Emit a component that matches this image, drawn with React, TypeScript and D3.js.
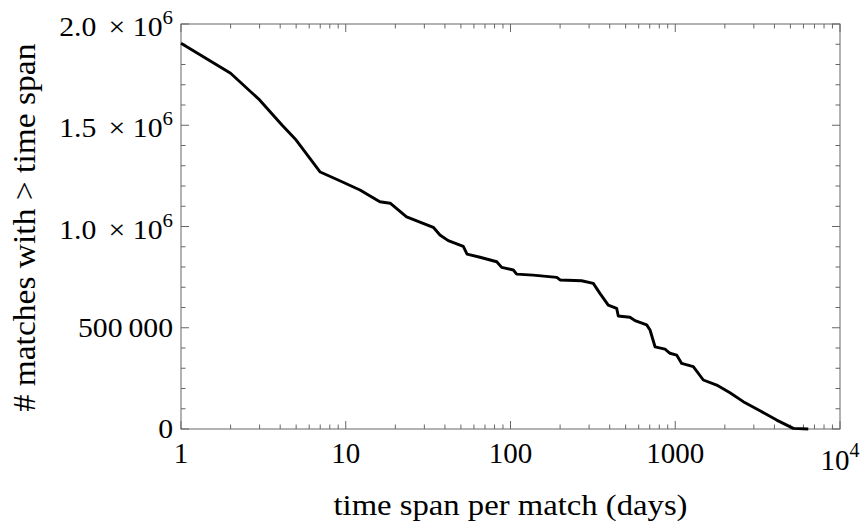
import React from "react";
import * as d3 from "d3";

const days = [1, 2, 3, 4.1, 5, 7, 9.2, 12.2, 16.1, 18.6, 23.4, 28.2, 34, 37.3, 41.9, 51.7, 54.5, 65.3, 82.5, 88.4, 104, 109, 137, 191, 200, 270, 318, 349, 392, 441, 451, 531, 570, 671, 703, 754, 867, 929, 1020, 1094, 1287, 1480, 1785, 2149, 2588, 3269, 4128, 5208, 6420];
const matches = [1905000, 1757000, 1625000, 1501000, 1427000, 1269000, 1226000, 1180000, 1122000, 1115000, 1048000, 1022000, 996000, 958000, 930000, 902000, 864000, 848000, 826000, 798000, 785000, 765000, 760000, 749000, 736000, 732000, 719000, 670000, 612000, 596000, 558000, 552000, 535000, 514000, 489000, 406000, 394000, 374000, 365000, 324000, 308000, 242000, 217000, 179000, 135000, 90000, 44000, 3000, 0];

const xMajorTicks = [1, 10, 100, 1000, 10000];
const xTickLabels = ["1", "10", "100", "1000", "10^4"];
const yMajorTicks = [0, 500000, 1000000, 1500000, 2000000];
const yTickLabels = ["0", "500\u2009000", "1.0|6", "1.5|6", "2.0|6"];

const W = 863, H = 524;
const L = 181, R = 840, T = 24, B = 429;
const FONT = "'Liberation Serif', 'Times New Roman', serif";
const TICK = "#666";

export default function App() {
  const x = d3.scaleLog().domain([1, 10000]).range([L, R]);
  const y = d3.scaleLinear().domain([0, 2000000]).range([B, T]);
  const pts = days.map((d, i) => [d, matches[i]] as [number, number]);
  const line = d3.line<[number, number]>().x(d => x(d[0])).y(d => y(d[1])).curve(d3.curveLinear);

  const xMinor: number[] = [];
  for (let e = 0; e < 4; e++) for (let k = 2; k <= 9; k++) xMinor.push(k * Math.pow(10, e));
  const yMinor = d3.range(0, 2000001, 100000).filter(v => v % 500000 !== 0);

  const maj = 8, mnr = 4.5;

  return (
    <svg width={W} height={H} style={{ position: "absolute", left: 0, top: 0, background: "#fff" }}>
      <rect x={0} y={0} width={W} height={H} fill="#fff" />
      <rect x={L} y={T} width={R - L} height={B - T} fill="none" stroke={TICK} strokeWidth={1} />
      {xMajorTicks.map((t, i) => (
        <g key={"xM" + i}>
          <line x1={x(t)} x2={x(t)} y1={B} y2={B - maj} stroke={TICK} />
          <line x1={x(t)} x2={x(t)} y1={T} y2={T + maj} stroke={TICK} />
        </g>
      ))}
      {xMinor.map((t, i) => (
        <g key={"xm" + i}>
          <line x1={x(t)} x2={x(t)} y1={B} y2={B - mnr} stroke={TICK} />
          <line x1={x(t)} x2={x(t)} y1={T} y2={T + mnr} stroke={TICK} />
        </g>
      ))}
      {yMajorTicks.map((v, i) => (
        <g key={"yM" + i}>
          <line x1={L} x2={L + maj} y1={y(v)} y2={y(v)} stroke={TICK} />
          <line x1={R} x2={R - maj} y1={y(v)} y2={y(v)} stroke={TICK} />
        </g>
      ))}
      {yMinor.map((v, i) => (
        <g key={"ym" + i}>
          <line x1={L} x2={L + mnr} y1={y(v)} y2={y(v)} stroke={TICK} />
          <line x1={R} x2={R - mnr} y1={y(v)} y2={y(v)} stroke={TICK} />
        </g>
      ))}
      <path d={line(pts) || ""} fill="none" stroke="#000" strokeWidth={2.9} strokeLinejoin="round" />
      {xMajorTicks.map((t, i) => {
        const lab = xTickLabels[i];
        if (lab.includes("^")) {
          const [b, s] = lab.split("^");
          return (
            <text key={"xl" + i} x={x(t)} y={470} fontFamily={FONT} fontSize={29} textAnchor="middle" fill="#000">
              {b}<tspan fontSize={20} dy={-13}>{s}</tspan>
            </text>
          );
        }
        return (
          <text key={"xl" + i} x={x(t)} y={463} fontFamily={FONT} fontSize={29} textAnchor="middle" fill="#000">{lab}</text>
        );
      })}
      {yMajorTicks.map((v, i) => {
        const lab = yTickLabels[i];
        if (lab.includes("|")) {
          const [m, e] = lab.split("|");
          return (
            <g key={"yl" + i} transform={`translate(173,${y(v) + 12}) scale(1.1,1)`}>
              <text x={0} y={0} fontFamily={FONT} fontSize={27} textAnchor="end" fill="#000">
                {m}<tspan dx={11}>{"\u00d7"}</tspan><tspan dx={7}>{"10"}</tspan><tspan fontSize={19} dy={-12}>{e}</tspan>
              </text>
            </g>
          );
        }
        return (
          <g key={"yl" + i} transform={`translate(173,${y(v) + 9}) scale(1.1,1)`}>
            <text x={0} y={0} fontFamily={FONT} fontSize={27} textAnchor="end" fill="#000">{lab}</text>
          </g>
        );
      })}
      <text x={(L + R) / 2} y={515} fontFamily={FONT} fontSize={30} textAnchor="middle" textLength={354} lengthAdjust="spacingAndGlyphs" fill="#000">time span per match (days)</text>
      <text transform={`translate(35,${(T + B) / 2 + 1}) rotate(-90)`} fontFamily={FONT} fontSize={31} textAnchor="middle" textLength={368} lengthAdjust="spacingAndGlyphs" fill="#000"># matches with &gt; time span</text>
    </svg>
  );
}
